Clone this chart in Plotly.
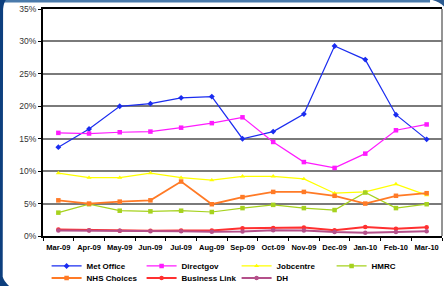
import plotly.graph_objects as go

months = ["Mar-09", "Apr-09", "May-09", "Jun-09", "Jul-09", "Aug-09", "Sep-09",
          "Oct-09", "Nov-09", "Dec-09", "Jan-10", "Feb-10", "Mar-10"]

met_office = [13.7, 16.5, 20.0, 20.4, 21.3, 21.5, 15.0, 16.1, 18.8, 29.3, 27.2, 18.7, 14.9]
directgov = [15.9, 15.8, 16.0, 16.1, 16.7, 17.4, 18.3, 14.5, 11.4, 10.5, 12.7, 16.3, 17.2]
jobcentre = [9.7, 9.0, 9.0, 9.7, 9.0, 8.6, 9.2, 9.2, 8.8, 6.6, 6.8, 8.0, 6.3]
hmrc = [3.6, 4.9, 3.9, 3.8, 3.9, 3.7, 4.3, 4.8, 4.3, 4.0, 6.7, 4.3, 4.9]
nhs_choices = [5.5, 5.0, 5.3, 5.5, 8.4, 4.9, 6.0, 6.8, 6.8, 6.2, 5.0, 6.2, 6.6]
business_link = [1.0, 0.9, 0.8, 0.8, 0.85, 0.85, 1.2, 1.25, 1.3, 0.9, 1.4, 1.1, 1.35]
dh = [0.85, 0.85, 0.8, 0.75, 0.75, 0.65, 0.7, 0.9, 0.85, 0.6, 0.5, 0.6, 0.75]

y_ticks = [0, 5, 10, 15, 20, 25, 30, 35]
y_tick_labels = ["0%", "5%", "10%", "15%", "20%", "25%", "30%", "35%"]

series = [
    ("Met Office", met_office, "#1a2cf0", "diamond", 1.2, "legend"),
    ("Directgov", directgov, "#ff1aff", "square", 1.2, "legend"),
    ("Jobcentre", jobcentre, "#ffff00", "triangle-up", 1.2, "legend"),
    ("HMRC", hmrc, "#a6d21e", "square", 1.2, "legend"),
    ("NHS Choices", nhs_choices, "#ff7a26", "square", 1.8, "legend2"),
    ("Business Link", business_link, "#ff3030", "circle", 2.0, "legend2"),
    ("DH", dh, "#b4508a", "circle", 2.0, "legend2"),
]

fig = go.Figure()
for name, vals, color, sym, lw, leg in series:
    fig.add_trace(go.Scatter(
        x=months, y=vals, name=name, mode="lines+markers",
        line=dict(color=color, width=lw),
        marker=dict(symbol=sym, size=4.5, color=color),
        legend=leg,
    ))

font_family = "Liberation Sans"

# decorative frame
shapes = [
    dict(type="rect", xref="paper", yref="paper", x0=-0.11, x1=0.97, y0=1.029, y1=1.045,
         fillcolor="#4a7aab", line=dict(width=0), layer="below"),
    dict(type="path", xref="paper", yref="paper",
         path="M -0.11 1.045 L -0.09 1.045 Q -0.098 1.035 -0.1 1.0 L -0.101 -0.18 Q -0.098 -0.2 -0.085 -0.22 L -0.11 -0.22 Z",
         fillcolor="#0d3f7e", line=dict(width=0), layer="below"),
    dict(type="path", xref="paper", yref="paper",
         path="M 0.965 1.045 L 1.01 1.045 L 1.01 1.0 Q 1.0 1.03 0.965 1.045 Z",
         fillcolor="#2a5a90", line=dict(width=0), layer="below"),
    dict(type="line", xref="paper", yref="paper", x0=1, x1=1, y0=0, y1=1,
         line=dict(color="#707070", width=1.5)),
]

legend_common = dict(orientation="h", xanchor="left", yanchor="middle",
                     font=dict(family=font_family, size=8, weight="bold"),
                     entrywidth=50, tracegroupgap=0, itemwidth=30,
                     bgcolor="rgba(0,0,0,0)")

fig.update_layout(
    width=444, height=286,
    margin=dict(l=43, r=2, t=9, b=50, autoexpand=False),
    paper_bgcolor="white", plot_bgcolor="white",
    font=dict(family=font_family, size=8, color="#000000"),
    showlegend=True,
    legend=dict(x=0.009, y=-0.132, **legend_common),
    legend2=dict(x=0.009, y=-0.185, **legend_common),
    shapes=shapes,
)
fig.update_xaxes(
    type="category", range=[-0.5, 12.5], showgrid=False,
    showline=True, linecolor="black", linewidth=2, mirror=True,
    ticks="outside", tickson="boundaries", ticklen=3, tickcolor="black",
    tickangle=0, automargin=False, ticklabelstandoff=3,
    tickfont=dict(family=font_family, size=7.5, weight="bold"),
    fixedrange=True,
)
fig.update_yaxes(
    range=[0, 35], tickvals=y_ticks, ticktext=y_tick_labels,
    showgrid=True, gridcolor="#7a7a7a", gridwidth=1.8,
    showline=True, linecolor="black", linewidth=2,
    ticks="outside", ticklen=3, tickcolor="black", automargin=False,
    tickfont=dict(family=font_family, size=8.5, color="#333333"),
    zeroline=False, fixedrange=True,
)

fig.write_html("out.html", post_script="document.body.style.margin='0px';",
               config={"displayModeBar": False})
